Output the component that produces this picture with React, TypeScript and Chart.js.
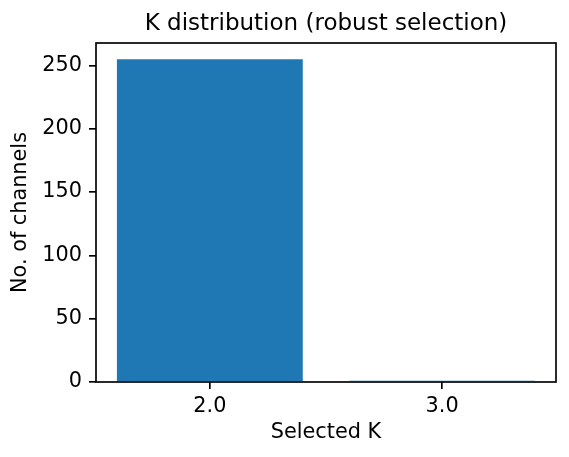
import React, { useEffect, useRef } from "react";
import { Chart, registerables } from "chart.js";

Chart.register(...registerables);

const categories: number[] = [2, 3];
const counts: number[] = [255, 1];
const xTickValues: number[] = [2, 3];
const yTickValues: number[] = [0, 50, 100, 150, 200, 250];
const titleText = "K distribution (robust selection)";
const xLabel = "Selected K";
const yLabel = "No. of channels";

const FONT = "'DejaVu Sans', sans-serif";

const framePlugin = {
  id: "frame",
  afterDatasetsDraw(chart: any) {
    const { ctx, chartArea } = chart;
    const { left, top, right, bottom } = chartArea;
    ctx.save();
    ctx.strokeStyle = "#000";
    ctx.lineWidth = 1.67;
    ctx.strokeRect(left, top, right - left, bottom - top);
    ctx.restore();
  },
};

export default function App() {
  const ref = useRef<HTMLCanvasElement | null>(null);

  useEffect(() => {
    if (!ref.current) return;
    Chart.defaults.color = "#000";
    Chart.defaults.font.family = FONT;
    const chart = new Chart(ref.current, {
      type: "bar",
      data: {
        datasets: [
          {
            data: categories.map((c, i) => ({ x: c, y: counts[i] })),
            backgroundColor: "#1f77b4",
            borderWidth: 0,
            categoryPercentage: 1,
            barPercentage: 0.8,
          },
        ],
      },
      options: {
        responsive: false,
        animation: false,
        devicePixelRatio: 1,
        layout: { padding: { left: 0, right: 13, top: 0, bottom: 0 } },
        plugins: {
          legend: { display: false },
          tooltip: { enabled: false },
          title: {
            display: true,
            text: titleText,
            fullSize: false,
            color: "#000",
            font: { family: FONT, size: 23, weight: "normal" },
            padding: { top: 10, bottom: 5.4 },
          },
        },
        scales: {
          x: {
            type: "linear",
            min: 1.51,
            max: 3.49,
            offset: false,
            afterBuildTicks: (scale: any) => {
              scale.ticks = xTickValues.map((v) => ({ value: v }));
            },
            afterFit: (scale: any) => {
              scale.height = 75;
            },
            grid: {
              offset: false,
              drawOnChartArea: false,
              drawTicks: true,
              tickLength: 7,
              tickColor: "#000",
              lineWidth: 1.67,
            },
            border: { display: false },
            ticks: {
              padding: 5,
              color: "#000",
              font: { family: FONT, size: 20.8 },
              maxRotation: 0,
              callback: (v: any) => Number(v).toFixed(1),
            },
            title: {
              display: true,
              text: xLabel,
              color: "#000",
              font: { family: FONT, size: 20.8 },
              padding: { top: 0, bottom: 11.7 },
            },
          },
          y: {
            type: "linear",
            min: 0,
            max: 267.75,
            afterBuildTicks: (scale: any) => {
              scale.ticks = yTickValues.map((v) => ({ value: v }));
            },
            afterFit: (scale: any) => {
              scale.width = 96;
            },
            grid: {
              offset: false,
              drawOnChartArea: false,
              drawTicks: true,
              tickLength: 7,
              tickColor: "#000",
              lineWidth: 1.67,
            },
            border: { display: false },
            ticks: {
              padding: 7,
              color: "#000",
              font: { family: FONT, size: 20.8 },
            },
            title: {
              display: true,
              text: yLabel,
              color: "#000",
              font: { family: FONT, size: 20.8 },
              padding: { top: 8.3, bottom: 0 },
            },
          },
        },
      },
      plugins: [framePlugin],
    } as any);
    return () => chart.destroy();
  }, []);

  return (
    <div style={{ position: "fixed", left: 0, top: 0, width: 569, height: 457, background: "#fff" }}>
      <canvas ref={ref} width={569} height={457} style={{ width: 569, height: 457 }} />
    </div>
  );
}
